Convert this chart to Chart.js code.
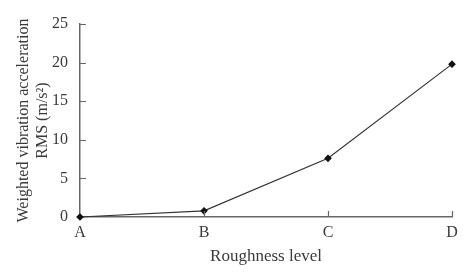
<!DOCTYPE html>
<html>
<head>
<meta charset="utf-8">
<script src="https://cdn.jsdelivr.net/npm/chart.js@4"></script>
<style>
  html, body { margin: 0; padding: 0; background: #fff; }
  #wrap { width: 474px; height: 279px; }
</style>
</head>
<body>
<div id="wrap"><canvas id="chart"></canvas></div>
<script>
// Roughness levels and weighted RMS values (m/s^2)
const levels = ['A', 'B', 'C', 'D'];
const rmsValues = [0, 0.8, 7.6, 19.8];
const yTicks = [0, 5, 10, 15, 20, 25];

const font = 'Liberation Serif';
const textColor = '#3a3a3a';
const axisColor = '#666';

// short tick marks pointing into the plot area
const innerTicks = {
    id: 'innerTicks',
    afterDraw(chart) {
        const ctx = chart.ctx;
        const x = chart.scales.x, y = chart.scales.y;
        ctx.save();
        ctx.strokeStyle = axisColor;
        ctx.lineWidth = 1.2;
        ctx.beginPath();
        yTicks.forEach(v => {
            if (v === 0) return;
            const py = Math.round(y.getPixelForValue(v)) + 0.5;
            ctx.moveTo(x.left, py);
            ctx.lineTo(x.left + 6, py);
        });
        levels.forEach((l, i) => {
            if (i === 0) return;
            const px = Math.round(x.getPixelForValue(i)) + 0.5;
            ctx.moveTo(px, y.bottom);
            ctx.lineTo(px, y.bottom - 6);
        });
        ctx.stroke();
        ctx.restore();
    }
};

new Chart(document.getElementById('chart'), {
    type: 'line',
    data: {
        labels: levels,
        datasets: [{
            data: rmsValues,
            borderColor: '#333',
            borderWidth: 1.2,
            pointStyle: 'rectRot',
            pointRadius: 3,
            pointBackgroundColor: '#111',
            pointBorderColor: '#111',
            tension: 0,
            clip: false
        }]
    },
    options: {
        responsive: true,
        maintainAspectRatio: false,
        animation: false,
        layout: { padding: { left: 15, right: 22, top: 24, bottom: 14 } },
        plugins: {
            legend: { display: false },
            tooltip: { enabled: false }
        },
        scales: {
            x: {
                offset: false,
                grid: { display: false },
                border: { color: axisColor, width: 1.5 },
                ticks: { color: textColor, font: { family: font, size: 16, lineHeight: 1 }, padding: 0 },
                title: {
                    display: true,
                    text: 'Roughness level',
                    color: textColor,
                    font: { family: font, size: 17, lineHeight: 1 },
                    padding: { top: 6, bottom: 0 }
                },
                afterFit(scale) { scale.height = 48; }
            },
            y: {
                min: 0,
                max: 25,
                grid: { display: false },
                border: { color: axisColor, width: 1.5 },
                ticks: {
                    stepSize: 5,
                    color: textColor,
                    font: { family: font, size: 16 },
                    padding: 4
                },
                title: {
                    display: true,
                    text: ['Weighted vibration acceleration', 'RMS (m/s²)'],
                    color: textColor,
                    font: { family: font, size: 16, lineHeight: 1.15 },
                    padding: { top: 0, bottom: 6 }
                },
                afterFit(scale) { scale.width = 65; }
            }
        }
    },
    plugins: [innerTicks]
});
</script>
</body>
</html>
